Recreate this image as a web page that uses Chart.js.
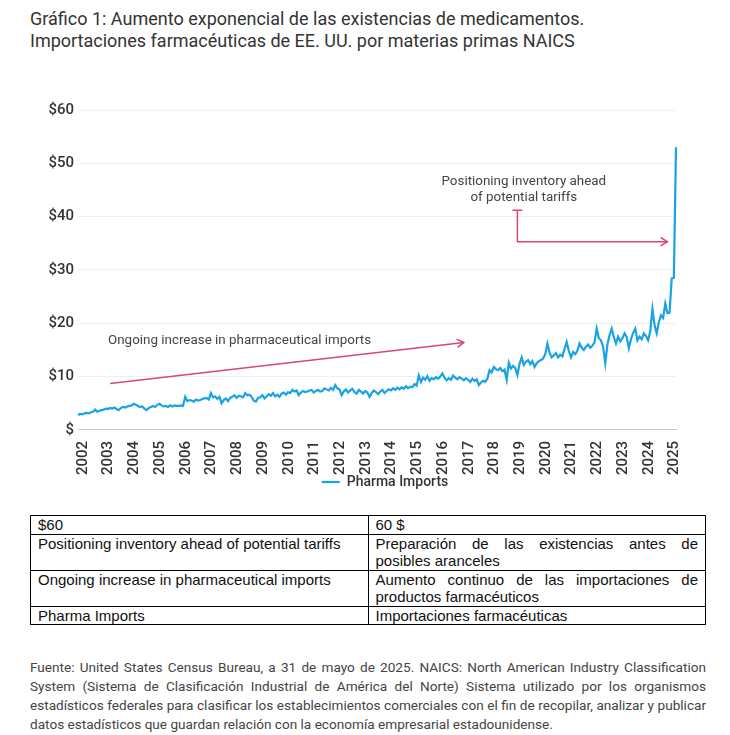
<!DOCTYPE html>
<html>
<head>
<meta charset="utf-8">
<script src="https://cdn.jsdelivr.net/npm/chart.js@4.4.1/dist/chart.umd.min.js"></script>
<style>
  body { margin: 0; background: #fff; width: 730px; height: 735px; position: relative; overflow: hidden; font-family: Roboto, sans-serif; }
  #title { position: absolute; left: 30px; top: 8px; font-size: 18px; line-height: 22px; color: #333; }
  #chartBox { position: absolute; left: 0; top: 95px; width: 700px; height: 409px; }
  #tblWrap { position: absolute; left: 30px; top: 515px; width: 676px; }
  table { border-collapse: collapse; width: 100%; font-family: "Liberation Sans", Arial, sans-serif; font-size: 15px; line-height: 17.5px; color: #111; }
  td { border: 1px solid #000; padding: 0 7px; vertical-align: top; width: 50%; }
  td.just { text-align: justify; }
  #foot { position: absolute; left: 30px; top: 658px; width: 676px; font-size: 13.6px; line-height: 19px; color: #444; text-align: justify; }
</style>
</head>
<body>
<div id="title">Gráfico 1: Aumento exponencial de las existencias de medicamentos.<br>Importaciones farmacéuticas de EE. UU. por materias primas NAICS</div>
<div id="chartBox"><canvas id="chart"></canvas></div>
<div id="tblWrap">
<table>
  <tr><td>$60</td><td>60 $</td></tr>
  <tr><td>Positioning inventory ahead of potential tariffs</td><td class="just">Preparación de las existencias antes de posibles aranceles</td></tr>
  <tr><td>Ongoing increase in pharmaceutical imports</td><td class="just">Aumento continuo de las importaciones de productos farmacéuticos</td></tr>
  <tr><td>Pharma Imports</td><td>Importaciones farmacéuticas</td></tr>
</table>
</div>
<div id="foot">Fuente: United States Census Bureau, a 31 de mayo de 2025. NAICS: North American Industry Classification System (Sistema de Clasificación Industrial de América del Norte) Sistema utilizado por los organismos estadísticos federales para clasificar los establecimientos comerciales con el fin de recopilar, analizar y publicar datos estadísticos que guardan relación con la economía empresarial estadounidense.</div>

<script>
// monthly imports, billions USD
const years = ["2002","2003","2004","2005","2006","2007","2008","2009","2010","2011","2012","2013",
  "2014","2015","2016","2017","2018","2019","2020","2021","2022","2023","2024","2025"];

const imports = [
  2.8, 3.0, 2.9, 3.1, 3.2, 3.1, 3.3, 3.4, 3.8, 3.4, 3.6, 3.7,      // 2002
  3.8, 4.0, 3.9, 4.1, 4.0, 4.2, 3.9, 3.7, 4.1, 4.3, 4.2, 4.4,      // 2003
  4.5, 4.6, 4.9, 4.7, 4.5, 4.3, 4.4, 4.0, 3.7, 4.1, 4.3, 4.5,      // 2004
  4.3, 4.7, 4.9, 4.6, 4.4, 4.5, 4.3, 4.6, 4.4, 4.6, 4.5, 4.5,      // 2005
  4.6, 4.5, 6.2, 5.4, 5.6, 5.5, 5.3, 5.7, 5.5, 5.6, 5.8, 5.9,      // 2006
  6.0, 5.7, 6.9, 6.1, 6.3, 5.8, 6.2, 5.0, 5.6, 5.9, 5.4, 6.0,      // 2007
  6.2, 6.5, 6.0, 6.4, 6.3, 6.1, 6.9, 6.5, 6.6, 6.2, 5.5, 5.3,      // 2008
  6.0, 6.1, 6.5, 5.9, 6.3, 6.7, 6.4, 6.9, 6.3, 6.6, 6.2, 6.8,      // 2009
  7.0, 6.6, 7.1, 6.9, 7.5, 7.2, 7.4, 6.5, 7.0, 7.3, 7.1, 7.2,      // 2010
  7.4, 7.5, 7.0, 7.3, 7.5, 7.2, 7.3, 7.8, 7.6, 7.4, 7.9, 7.5,      // 2011
  8.4, 7.8, 7.6, 6.5, 7.2, 7.6, 7.0, 7.4, 7.7, 7.1, 6.8, 7.5,      // 2012
  7.2, 6.8, 7.3, 7.0, 6.2, 6.9, 7.4, 7.1, 6.7, 7.2, 7.5, 6.9,      // 2013
  7.3, 7.6, 7.4, 7.8, 7.5, 7.9, 7.6, 8.0, 7.7, 8.2, 7.8, 8.1,      // 2014
  8.0, 8.6, 8.3, 10.2, 9.0, 9.8, 9.4, 10.1, 9.2, 9.7, 9.5, 9.9,    // 2015
  9.6, 10.0, 10.6, 9.8, 9.3, 9.7, 9.4, 10.2, 9.8, 9.5, 9.9, 9.6,   // 2016
  9.3, 9.7, 9.4, 9.0, 9.6, 9.2, 9.5, 8.4, 8.9, 9.2, 9.0, 9.6,      // 2017
  11.2, 10.8, 11.8, 11.4, 11.2, 11.6, 11.0, 11.3, 9.4, 12.6, 11.5, 12.0,  // 2018
  11.6, 10.3, 12.4, 13.6, 12.2, 12.8, 13.1, 12.3, 12.9, 11.8, 12.5, 12.9, // 2019
  13.1, 13.4, 14.2, 16.2, 14.5, 13.6, 14.0, 14.4, 13.6, 14.1, 13.8, 15.2, // 2020
  16.5, 14.8, 13.6, 14.6, 14.2, 14.9, 16.2, 15.4, 15.0, 15.6, 16.0, 15.4, // 2021
  15.8, 16.4, 19.0, 17.2, 16.8, 15.6, 12.5, 16.0, 17.8, 19.0, 17.4, 16.2, // 2022
  17.5, 16.6, 17.2, 18.1, 17.4, 15.3, 17.0, 18.2, 19.0, 16.8, 17.5, 17.0, // 2023
  18.1, 17.6, 16.8, 18.5, 22.7, 19.6, 18.1, 20.2, 21.5, 21.0, 23.7, 21.9, // 2024
  22.0, 28.4, 28.5, 53.0                                                  // 2025
];

const yTicks = [0, 10, 20, 30, 40, 50, 60];

// month labels "2002-01" ... built from the years list
const months = [];
years.forEach(yr => {
  for (let m = 1; m <= 12; m++) {
    if (months.length < imports.length) months.push(yr + "-" + String(m).padStart(2, "0"));
  }
});

// annotations, in data terms: [month label, value]
const trendFrom = ["2003-04", 8.7];
const trendTo = ["2017-01", 16.4];
const trendText = ["2003-03", 16.8, "Ongoing increase in pharmaceutical imports"];
const tariffText = ["2019-05", 46.6, "Positioning inventory ahead", "of potential tariffs"];
const tariffPath = [["2019-02", 41.2], ["2019-02", 35.3], ["2024-12", 35.3]];

const NOTE_COLOR = "#d9457f";
const LINE_COLOR = "#1aa3e3";

function px(chart, pt) {
  return [chart.scales.x.getPixelForValue(months.indexOf(pt[0])), chart.scales.y.getPixelForValue(pt[1])];
}

function arrowHead(ctx, x, y, ang) {
  const s = 8;
  ctx.beginPath();
  ctx.moveTo(x - s * Math.cos(ang - 0.55), y - s * Math.sin(ang - 0.55));
  ctx.lineTo(x, y);
  ctx.lineTo(x - s * Math.cos(ang + 0.55), y - s * Math.sin(ang + 0.55));
  ctx.stroke();
}

const notesPlugin = {
  id: "notes",
  afterLayout(chart) {
    // legend sits right of the canvas centre and close under the axis in the original
    const lg = chart.legend, ca = chart.chartArea;
    const shift = (ca.left + ca.right) / 2 + 8 - (lg.left + lg.right) / 2;
    lg.left += shift;
    lg.right += shift;
    lg.top -= 5;
    lg.bottom -= 5;
  },
  afterDatasetsDraw(chart) {
    const ctx = chart.ctx;
    ctx.save();
    ctx.strokeStyle = NOTE_COLOR;
    ctx.lineWidth = 1.5;

    // straight trend arrow
    const a = px(chart, trendFrom), b = px(chart, trendTo);
    ctx.beginPath(); ctx.moveTo(a[0], a[1]); ctx.lineTo(b[0], b[1]); ctx.stroke();
    arrowHead(ctx, b[0], b[1], Math.atan2(b[1] - a[1], b[0] - a[0]));

    // elbow arrow with a cap at the start
    const p = tariffPath.map(q => px(chart, q));
    ctx.beginPath();
    ctx.moveTo(p[0][0] - 5, p[0][1]); ctx.lineTo(p[0][0] + 5, p[0][1]);
    ctx.moveTo(p[0][0], p[0][1]);
    for (let i = 1; i < p.length; i++) ctx.lineTo(p[i][0], p[i][1]);
    ctx.stroke();
    arrowHead(ctx, p[2][0], p[2][1], 0);

    // texts
    ctx.fillStyle = "#444";
    ctx.font = "13.4px Roboto";
    ctx.textBaseline = "middle";
    const t = px(chart, trendText);
    ctx.textAlign = "left";
    ctx.fillText(trendText[2], t[0], t[1]);
    const u = px(chart, tariffText);
    ctx.textAlign = "center";
    ctx.fillText(tariffText[2], u[0], u[1]);
    ctx.fillText(tariffText[3], u[0], u[1] + 16);
    ctx.restore();
  }
};

new Chart(document.getElementById("chart"), {
  type: "line",
  data: {
    labels: months,
    datasets: [{
      label: "Pharma Imports",
      data: imports,
      borderColor: LINE_COLOR,
      backgroundColor: LINE_COLOR,
      borderWidth: 2.2,
      pointRadius: 0,
      pointStyle: "line",
      tension: 0
    }]
  },
  options: {
    animation: false,
    responsive: true,
    maintainAspectRatio: false,
    layout: { padding: { top: 15, right: 24, left: 0, bottom: 0 } },
    plugins: {
      legend: {
        position: "bottom",
        labels: {
          usePointStyle: true,
          pointStyleWidth: 18,
          color: "#333",
          font: { family: "Roboto", size: 14, weight: "500" },
          padding: 2
        }
      },
      tooltip: { enabled: false }
    },
    scales: {
      x: {
        grid: { display: false },
        border: { display: true, color: "#c8c8c8" },
        ticks: {
          autoSkip: false,
          minRotation: 90,
          maxRotation: 90,
          labelOffset: 5,
          padding: 3,
          color: "#333",
          font: { family: "Roboto", size: 15, weight: "500" },
          callback: (v, i) => months[i].endsWith("-01") ? months[i].slice(0, 4) : null
        }
      },
      y: {
        min: 0,
        max: 60,
        afterFit: s => { s.width = 78; },
        afterBuildTicks: s => { s.ticks = yTicks.map(v => ({ value: v })); },
        grid: { color: "#efefef", drawTicks: false },
        border: { display: false },
        ticks: {
          padding: 4,
          color: "#333",
          font: { family: "Roboto", size: 15, weight: "500" },
          callback: v => v === 0 ? "$" : "$" + v
        }
      }
    }
  },
  plugins: [notesPlugin]
});
</script>
</body>
</html>
